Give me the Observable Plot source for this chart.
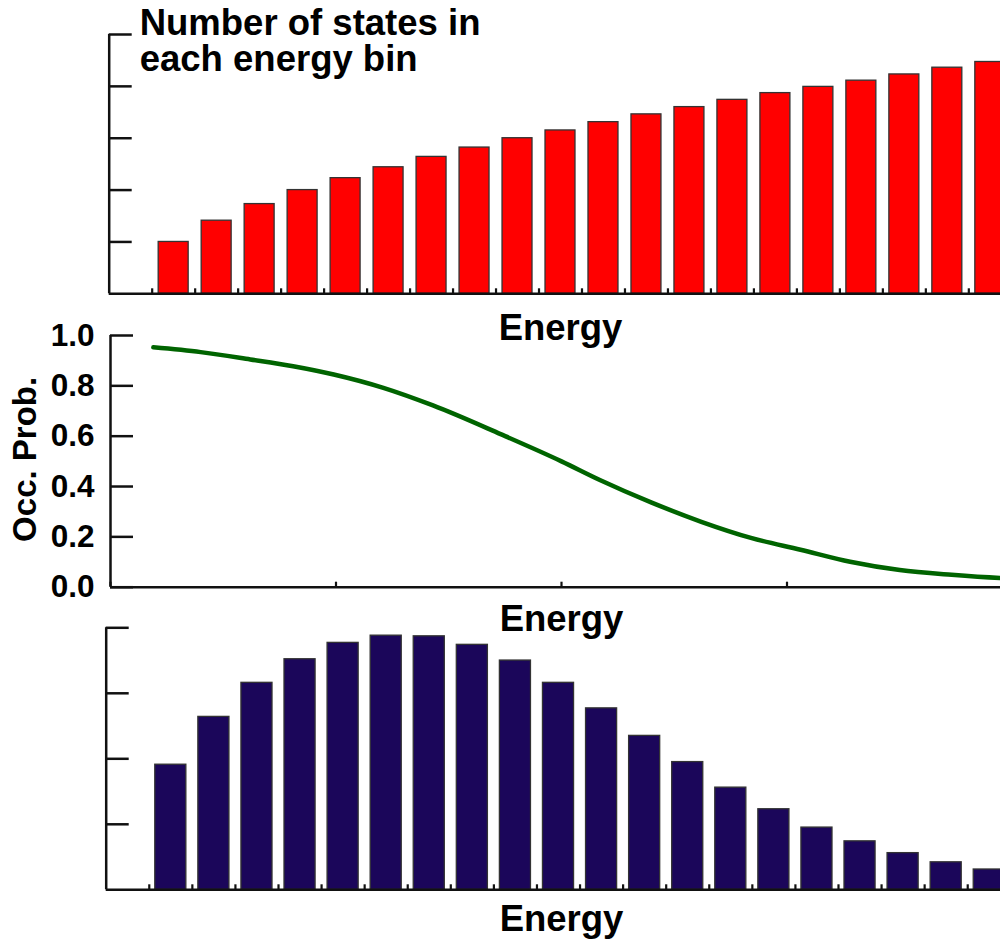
<!DOCTYPE html>
<html><head><meta charset="utf-8">
<script src="https://cdn.jsdelivr.net/npm/d3@7"></script>
<script src="https://cdn.jsdelivr.net/npm/@observablehq/plot@0.6"></script>
<style>
html,body{margin:0;padding:0;background:#fff;overflow:hidden;}
#wrap{position:relative;width:1000px;height:941px;overflow:hidden;background:#fff;}
#wrap svg{position:absolute;left:0;overflow:visible;max-width:none !important;}
</style></head><body><div id="wrap"></div>
<script>
// ---- data ----
const energyBins = [1, 2, 3, 4, 5, 6, 7, 8, 9, 10, 11, 12, 13, 14, 15, 16, 17, 18, 19, 20];
const statesPerBin = [1.00, 1.41, 1.73, 2.00, 2.23, 2.44, 2.64, 2.82, 3.00, 3.15, 3.31, 3.46, 3.60, 3.74, 3.87, 3.99, 4.11, 4.23, 4.36, 4.47];
const occupiedPerBin = [1.91, 2.64, 3.16, 3.52, 3.77, 3.88, 3.87, 3.74, 3.50, 3.16, 2.77, 2.35, 1.95, 1.56, 1.23, 0.95, 0.74, 0.56, 0.42, 0.31];
const occEnergy = [0.19, 0.40, 0.62, 0.81, 0.99, 1.21, 1.43, 1.73, 2.00, 2.17, 2.40, 2.62, 2.84, 3.06, 3.28, 3.50, 3.73, 3.95, 4.00];
const occProb   = [0.953, 0.934, 0.905, 0.878, 0.845, 0.792, 0.722, 0.608, 0.500, 0.426, 0.336, 0.260, 0.196, 0.149, 0.101, 0.068, 0.049, 0.036, 0.034];
const binEdgeTicks = [0, 1, 2, 3, 4, 5, 6, 7, 8, 9, 10, 11, 12, 13, 14, 15, 16, 17, 18, 19, 20];
const statesTicks = [1, 2, 3, 4, 5];
const probTicks = [0, 0.2, 0.4, 0.6, 0.8, 1.0];
const occEnergyTicks = [0, 1, 2, 3, 4];
const occupiedTicks = [1, 2, 3, 4];
const xLabel = "Energy";
const titleLines = ["Number of states in", "each energy bin"];
const midYLabel = "Occ. Prob.";

// ---- tables ----
const statesData = energyBins.map((b, i) => ({bin: b, value: statesPerBin[i]}));
const occupiedData = energyBins.map((b, i) => ({bin: b, value: occupiedPerBin[i]}));
const curveData = occEnergy.map((e, i) => ({e, p: occProb[i]}));

const FONT = '"Liberation Sans", Arial, Helvetica, sans-serif';
const W = 1060;
const AX = "#111";
const LABEL_SIZE = 36.5;
const style = {fontFamily: FONT, fontWeight: "bold", background: "transparent", overflow: "visible", color: "#000", maxWidth: "none"};
const wrap = document.getElementById("wrap");
function place(svg, top) { svg.style.top = top + "px"; svg.style.maxWidth = "none"; wrap.appendChild(svg); }

// ---- top panel ----
const h1 = 350;
place(Plot.plot({
  width: W, height: h1,
  marginLeft: 108.7, marginRight: W - 1011.3, marginTop: 34, marginBottom: h1 - 293.3,
  x: {domain: [-1, 20]}, y: {domain: [0, 5]},
  style,
  marks: [
    Plot.rectY(statesData, {x1: d => d.bin - 1, x2: d => d.bin, y: "value", fill: "#ff0000", stroke: "#333", strokeWidth: 1.3, insetLeft: 6.5, insetRight: 6.5}),
    Plot.axisX({ticks: binEdgeTicks, tickSize: 5, dy: -5, tickFormat: () => "", label: null, stroke: AX, strokeWidth: 2.2}),
    Plot.axisY({ticks: statesTicks, tickSize: 23, dx: 23, tickFormat: () => "", label: null, stroke: AX, strokeWidth: 2.5}),
    Plot.ruleX([-1], {stroke: AX, strokeWidth: 2.5}),
    Plot.ruleY([0], {stroke: AX, strokeWidth: 2.5}),
    Plot.text([xLabel], {text: d => d, frameAnchor: "bottom", dy: 46, lineAnchor: "bottom", fontSize: LABEL_SIZE, fontWeight: "bold", fill: "#000"}),
    Plot.text([titleLines.join("\n")], {text: d => d, frameAnchor: "top-left", dx: 30.5, dy: -25, lineAnchor: "top", textAnchor: "start", fontSize: 36.5, lineHeight: 0.98, fontWeight: "bold", fill: "#000"})
  ]
}), 0);

// ---- middle panel ----
const h2 = 350;
place(Plot.plot({
  width: W, height: h2,
  marginLeft: 110, marginRight: W - 1012, marginTop: 35, marginBottom: h2 - 286.7,
  x: {domain: [0, 4]}, y: {domain: [0, 1]},
  style,
  marks: [
    Plot.line(curveData, {x: "e", y: "p", stroke: "#006400", strokeWidth: 4.5, curve: "monotone-x"}),
    Plot.axisX({ticks: occEnergyTicks, tickSize: 5, dy: -5, tickFormat: () => "", label: null, stroke: AX, strokeWidth: 2.2}),
    Plot.axisY({ticks: probTicks, tickSize: 23, dx: 23, tickPadding: 16, tickFormat: d3.format(".1f"), fontSize: 31.5, fontWeight: "bold", fill: "#000", label: null, stroke: AX, strokeWidth: 2.5}),
    Plot.ruleX([0], {stroke: AX, strokeWidth: 2.5}),
    Plot.ruleY([0], {stroke: AX, strokeWidth: 2.5}),
    Plot.text([xLabel], {text: d => d, frameAnchor: "bottom", dy: 43.3, lineAnchor: "bottom", fontSize: LABEL_SIZE, fontWeight: "bold", fill: "#000"}),
    Plot.text([midYLabel], {text: d => d, frameAnchor: "left", textAnchor: "middle", dx: -85, dy: -2, rotate: -90, fontSize: 33, fontWeight: "bold", fill: "#000"})
  ]
}), 300);

// ---- bottom panel ----
const h3 = 341;
place(Plot.plot({
  width: W, height: h3,
  marginLeft: 105.7, marginRight: W - 1010.3, marginTop: 27.3, marginBottom: h3 - 289.3,
  x: {domain: [-1, 20]}, y: {domain: [0, 4]},
  style,
  marks: [
    Plot.rectY(occupiedData, {x1: d => d.bin - 1, x2: d => d.bin, y: "value", fill: "#1b065a", stroke: "#333", strokeWidth: 1.3, insetLeft: 6, insetRight: 6}),
    Plot.axisX({ticks: binEdgeTicks, tickSize: 5, dy: -5, tickFormat: () => "", label: null, stroke: AX, strokeWidth: 2.2}),
    Plot.axisY({ticks: occupiedTicks, tickSize: 23, dx: 23, tickFormat: () => "", label: null, stroke: AX, strokeWidth: 2.5}),
    Plot.ruleX([-1], {stroke: AX, strokeWidth: 2.5}),
    Plot.ruleY([0], {stroke: AX, strokeWidth: 2.5}),
    Plot.text([xLabel], {text: d => d, frameAnchor: "bottom", dy: 40.7, dx: 3, lineAnchor: "bottom", fontSize: LABEL_SIZE, fontWeight: "bold", fill: "#000"})
  ]
}), 600);
</script></body></html>
